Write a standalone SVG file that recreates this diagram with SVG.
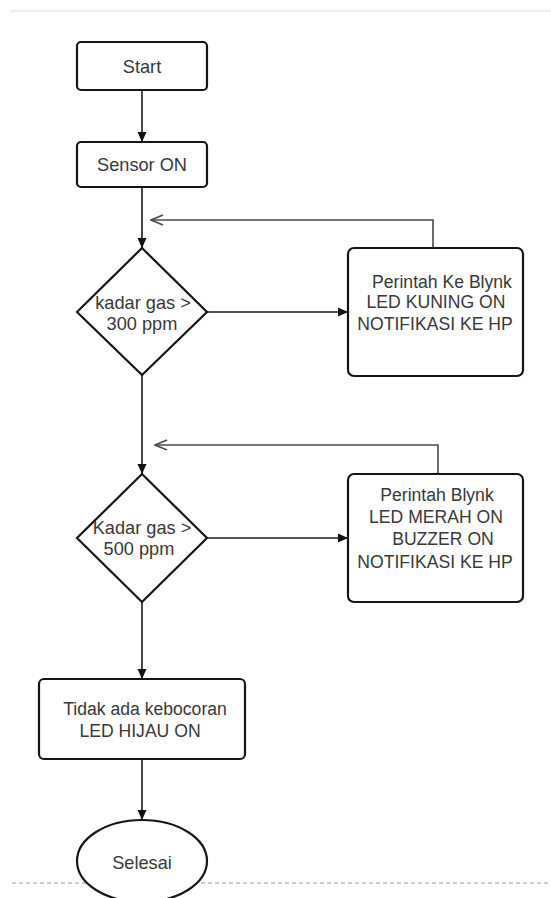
<svg xmlns="http://www.w3.org/2000/svg" width="551" height="898" viewBox="0 0 551 898">
<style>
.box{fill:#fff;stroke:#151515;stroke-width:2.2}
.t{font-family:"Liberation Sans",Arial,sans-serif;font-size:17.6px;fill:#383838;text-anchor:middle;dominant-baseline:central}
.big{font-size:18.2px}
.ln{fill:none;stroke:#1a1a1a;stroke-width:1.6}
.ret{fill:none;stroke:#4a4a4a;stroke-width:1.6}
</style>
<defs>
<marker id="arr" viewBox="0 0 10 10" refX="10" refY="5" markerWidth="10" markerHeight="10" markerUnits="userSpaceOnUse" orient="auto"><path d="M0,0.5 L10,5 L0,9.5 Z" fill="#111"/></marker>
<marker id="open" viewBox="0 0 14 12" refX="13" refY="6" markerWidth="14" markerHeight="12" markerUnits="userSpaceOnUse" orient="auto"><path d="M1,1 L13,6 L1,11" fill="none" stroke="#4a4a4a" stroke-width="1.6"/></marker>
</defs>
<rect width="551" height="898" fill="#fff"/>
<line x1="10" y1="11" x2="551" y2="11" stroke="#efefef" stroke-width="2.5"/>
<line x1="12" y1="883" x2="551" y2="883" stroke="#bdbdbd" stroke-width="1.5" stroke-dasharray="4,3"/>
<g id="connectors">
<path class="ln" d="M142,90 V142" marker-end="url(#arr)"/>
<path class="ln" d="M142,187 V248" marker-end="url(#arr)"/>
<path class="ln" d="M207,312 H348" marker-end="url(#arr)"/>
<path class="ret" d="M433,248 V220 H151" marker-end="url(#open)"/>
<path class="ln" d="M142,375 V474" marker-end="url(#arr)"/>
<path class="ln" d="M207,538 H348" marker-end="url(#arr)"/>
<path class="ret" d="M438,474 V445 H155" marker-end="url(#open)"/>
<path class="ln" d="M142,602 V679" marker-end="url(#arr)"/>
<path class="ln" d="M142,759 V820" marker-end="url(#arr)"/>
</g>
<g id="start">
<rect class="box" x="77" y="42" width="130" height="48" rx="4"/>
<text class="t big" x="142" y="67">Start</text>
</g>
<g id="sensor">
<rect class="box" x="77" y="142" width="130" height="45" rx="4"/>
<text class="t big" x="142" y="165">Sensor ON</text>
</g>
<g id="decision1">
<polygon class="box" points="142,248 207,312 142,375 77,312"/>
<text class="t big" x="143" y="303">kadar gas &gt;</text>
<text class="t big" x="142" y="324">300 ppm</text>
</g>
<g id="action1">
<rect class="box" x="348" y="248" width="175" height="128" rx="6"/>
<text class="t" x="442" y="282">Perintah Ke Blynk</text>
<text class="t" x="436" y="302">LED KUNING ON</text>
<text class="t" x="435" y="324">NOTIFIKASI KE HP</text>
</g>
<g id="decision2">
<polygon class="box" points="142,474 207,538 142,602 77,538"/>
<text class="t big" x="142" y="528">Kadar gas &gt;</text>
<text class="t big" x="139" y="549">500 ppm</text>
</g>
<g id="action2">
<rect class="box" x="348" y="474" width="175" height="128" rx="6"/>
<text class="t" x="437" y="495">Perintah Blynk</text>
<text class="t" x="436" y="517">LED MERAH ON</text>
<text class="t" x="443" y="539">BUZZER ON</text>
<text class="t" x="435" y="562">NOTIFIKASI KE HP</text>
</g>
<g id="noleak">
<rect class="box" x="39" y="679" width="206" height="80" rx="5"/>
<text class="t" x="145" y="709">Tidak ada kebocoran</text>
<text class="t" x="140" y="731">LED HIJAU ON</text>
</g>
<g id="end">
<ellipse class="box" cx="142" cy="861" rx="65" ry="41"/>
<text class="t big" x="142" y="863">Selesai</text>
</g>
</svg>
